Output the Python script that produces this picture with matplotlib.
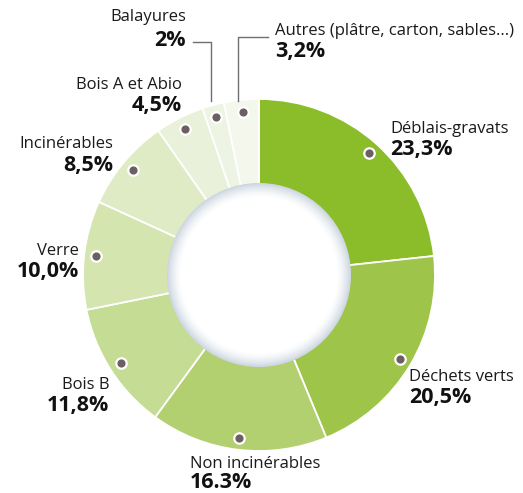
import matplotlib
matplotlib.use("Agg")
import matplotlib.pyplot as plt
import numpy as np
from matplotlib.patches import Circle

labels = ["Déblais-gravats", "Déchets verts", "Non incinérables", "Bois B", "Verre",
          "Incinérables", "Bois A et Abio", "Balayures", "Autres (plâtre, carton, sables...)"]
values = [23.3, 20.5, 16.3, 11.8, 10.0, 8.5, 4.5, 2.0, 3.2]
pct_labels = ["23,3%", "20,5%", "16.3%", "11,8%", "10,0%", "8,5%", "4,5%", "2%", "3,2%"]
colors = ["#8bbd2a", "#9ec549", "#b2d070", "#c5dc94", "#d5e5b0", "#dfebc5",
          "#e9f1da", "#eef4e3", "#f3f7ec"]

W, H = 523, 493
fig = plt.figure(figsize=(W / 100, H / 100), dpi=100)
ax = fig.add_axes([0, 0, 1, 1])
cx, cy = 259, H - 275
R = 176

wedges, _ = ax.pie(values, colors=colors, startangle=90, counterclock=False,
                   center=(cx, cy), radius=R,
                   wedgeprops=dict(width=R - 80, edgecolor="white", linewidth=1.3))
ax.set_xlim(0, W)
ax.set_ylim(0, H)
ax.set_aspect("equal")
ax.axis("off")

# inner circle with soft shadow ring
c0 = np.array([0.80, 0.84, 0.88])
c1 = np.array([1.0, 1.0, 1.0])
for r in np.linspace(92, 78, 30):
    t = (92 - r) / 14.0
    col = c0 * (1 - t) ** 1.5 + c1 * (1 - (1 - t) ** 1.5)
    ax.add_patch(Circle((cx, cy), r, facecolor=col, edgecolor="none", zorder=3))

# dots at mid angles
total = sum(values)
cum = np.cumsum([0] + values[:-1])
for v, c0v in zip(values, cum):
    mid = (c0v + v / 2) / total * 360
    ang = np.deg2rad(90 - mid)
    x, y = cx + 164 * np.cos(ang), cy + 164 * np.sin(ang)
    ax.plot(x, y, "o", ms=7.5, mfc="#6b5f62", mec="white", mew=1.6, zorder=5)

FONT = "Open Sans"
name_kw = dict(fontsize=12, color="#1a1a1a", family=FONT, va="center")
pct_kw = dict(fontsize=15.5, color="#111111", family=FONT, weight="bold", va="center")

# (x, y_name, y_pct, ha)
pos = [
    (390, 129, 149, "left"),
    (409, 377, 397, "left"),
    (190, 464, 483, "left"),
    (109, 385, 405, "right"),
    (79, 251, 271, "right"),
    (113, 144, 165, "right"),
    (182, 85, 105, "right"),
    (186, 17, 40, "right"),
    (275, 31, 51, "left"),
]
for lab, p, (x, yn, yp, ha) in zip(labels, pct_labels, pos):
    ax.text(x, H - yn, lab, ha=ha, **name_kw)
    ax.text(x, H - yp, p, ha=ha, **pct_kw)

# leader lines
lc = "#6f6f6f"
ax.plot([193, 211, 211], [H - 42, H - 42, H - 101], color=lc, lw=1, zorder=4)
ax.plot([268, 238, 238], [H - 37, H - 37, H - 101], color=lc, lw=1, zorder=4)

fig.savefig("out.png", dpi=100)
